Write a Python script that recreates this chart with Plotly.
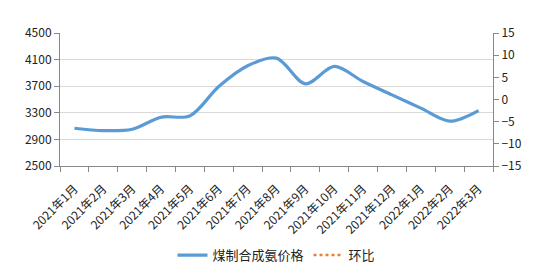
import plotly.graph_objects as go

months = ["2021年1月", "2021年2月", "2021年3月", "2021年4月", "2021年5月", "2021年6月",
          "2021年7月", "2021年8月", "2021年9月", "2021年10月", "2021年11月", "2021年12月",
          "2022年1月", "2022年2月", "2022年3月"]
price = [3068, 3032, 3053, 3234, 3254, 3695, 4007, 4123, 3736, 3997, 3771, 3570, 3370, 3174, 3334]
mom = [None] * len(months)

FONT = "Noto Sans CJK SC"

fig = go.Figure()
fig.add_trace(go.Scatter(
    x=months, y=price, name="煤制合成氨价格", mode="lines",
    line=dict(color="#5b9bd5", width=3.2, shape="spline", smoothing=0.9),
    yaxis="y"))
fig.add_trace(go.Scatter(
    x=months, y=mom, name="环比", mode="lines",
    line=dict(color="#ed7d31", width=2.5, dash="dot"),
    yaxis="y2"))

fig.update_layout(
    width=541, height=270,
    margin=dict(l=60, r=48, t=33, b=104, autoexpand=False),
    paper_bgcolor="white", plot_bgcolor="white",
    font=dict(family=FONT, size=11, color="#222222"),
    showlegend=True,
    legend=dict(orientation="h", x=0.5, xanchor="center", y=-0.67, yanchor="middle",
                font=dict(size=13, color="#222222"), itemwidth=30, tracegroupgap=0),
    xaxis=dict(type="category", tickangle=-45, tickson="boundaries",
               range=[-0.5, len(months) - 0.5], automargin=False,
               showline=True, linecolor="#888888", linewidth=1,
               ticks="outside", ticklen=5, tickcolor="#888888",
               ticklabelstandoff=10,
               showgrid=False, tickfont=dict(size=12)),
    yaxis=dict(range=[2500, 4500], dtick=400, tick0=2500, automargin=False,
               showline=True, linecolor="#888888", linewidth=1,
               ticks="outside", ticklen=5, tickcolor="#888888",
               showgrid=True, gridcolor="#d9d9d9", gridwidth=1,
               zeroline=False, tickfont=dict(size=12)),
    yaxis2=dict(range=[-15, 15], dtick=5, overlaying="y", side="right", automargin=False,
                showline=True, linecolor="#888888", linewidth=1,
                ticks="outside", ticklen=5, tickcolor="#888888",
                showgrid=False, zeroline=False, tickfont=dict(size=12)),
)

fig.write_html("out.html")
